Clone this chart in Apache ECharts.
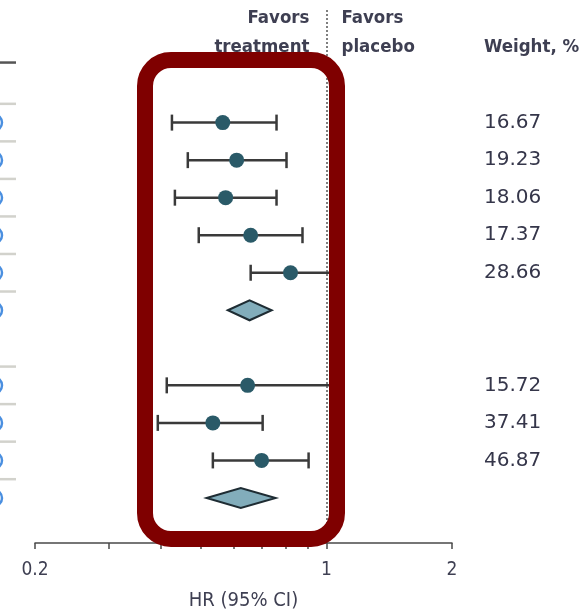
<!DOCTYPE html>
<html><head><meta charset="utf-8">
<script src="https://cdn.jsdelivr.net/npm/echarts@6/dist/echarts.min.js"></script>
<style>html,body{margin:0;padding:0;background:#fff}#c{width:588px;height:611px}</style>
</head><body><div id="c"></div>
<script>
// Study rows (row index on the y scale; row 6 is an empty spacer)
const studyRows = [0, 1, 2, 3, 4, 7, 8, 9];
const studyHR = [0.564, 0.609, 0.573, 0.658, 0.820, 0.647, 0.534, 0.699];
const studyLower = [0.426, 0.465, 0.433, 0.494, 0.658, 0.414, 0.394, 0.534];
const studyUpper = [0.759, 0.802, 0.759, 0.876, 1.06, 1.08, 0.703, 0.906];
const studyWeights = ['16.67', '19.23', '18.06', '17.37', '28.66', '15.72', '37.41', '46.87'];
// Pooled estimates (diamonds)
const pooledRows = [5, 10];
const pooledHR = [0.654, 0.623];
const pooledLower = [0.580, 0.516];
const pooledUpper = [0.739, 0.755];
// all occupied rows (for the left-edge fragments)
const allRows = [0, 1, 2, 3, 4, 5, 7, 8, 9, 10];
// axis ticks
const tickValues = [0.2, 0.3, 0.4, 0.5, 0.6, 0.7, 0.8, 0.9, 1, 2];
const labelValues = [0.2, 1, 2];
const refValue = 1;

const textColor = '#3e3f52';
const fontFam = '"DejaVu Sans Condensed", "DejaVu Sans", sans-serif';

const chart = echarts.init(document.getElementById('c'), null, {renderer: 'canvas'});

const ciData = studyRows.map((r, i) => [studyLower[i], studyUpper[i], r]);
const ptData = studyRows.map((r, i) => [studyHR[i], r]);
const dmData = pooledRows.map((r, i) => [pooledLower[i], pooledHR[i], pooledUpper[i], r]);
const wtData = studyRows.map((r, i) => [refValue, r, studyWeights[i]]);

chart.setOption({
  animation: false,
  grid: {left: 35, right: 136, top: 10, bottom: 68, containLabel: false, outerBoundsMode: 'none'},
  xAxis: {
    type: 'log', logBase: 10, min: 0.2, max: 2,
    splitLine: {show: false},
    axisLine: {show: true, onZero: false, lineStyle: {color: '#4a4a4a', width: 1.5}},
    axisTick: {show: true, customValues: tickValues, length: 6, lineStyle: {color: '#4a4a4a', width: 1.5}},
    axisLabel: {customValues: labelValues, color: textColor, fontSize: 19, fontFamily: fontFam, margin: 18,
      formatter: v => String(+v.toFixed(2))},
    name: 'HR (95% CI)', nameLocation: 'middle', nameGap: 48,
    nameTextStyle: {color: textColor, fontSize: 20, fontFamily: fontFam}
  },
  yAxis: {type: 'value', inverse: true, min: -3, max: 11.2, show: false},
  series: [
    {
      type: 'custom', name: 'ci', data: ciData, z: 3,
      renderItem: (params, api) => {
        const a = api.coord([api.value(0), api.value(2)]);
        const b = api.coord([api.value(1), api.value(2)]);
        const h = 8;
        const st = {stroke: '#3a3a3a', lineWidth: 2.5};
        return {type: 'group', children: [
          {type: 'line', shape: {x1: a[0], y1: a[1], x2: b[0], y2: b[1]}, style: st},
          {type: 'line', shape: {x1: a[0], y1: a[1] - h, x2: a[0], y2: a[1] + h}, style: st},
          {type: 'line', shape: {x1: b[0], y1: b[1] - h, x2: b[0], y2: b[1] + h}, style: st}
        ]};
      }
    },
    {
      type: 'scatter', name: 'hr', data: ptData, symbol: 'circle', symbolSize: 15, z: 4,
      itemStyle: {color: '#2a5a68', opacity: 1}
    },
    {
      type: 'custom', name: 'pooled', data: dmData, z: 4,
      renderItem: (params, api) => {
        const r = api.value(3);
        const l = api.coord([api.value(0), r]);
        const m = api.coord([api.value(1), r]);
        const u = api.coord([api.value(2), r]);
        const h = 10;
        return {type: 'polygon', shape: {points: [[l[0], l[1]], [m[0], m[1] - h], [u[0], u[1]], [m[0], m[1] + h]]},
          style: {fill: '#82adbb', stroke: '#1e2c33', lineWidth: 2}};
      }
    },
    {
      type: 'custom', name: 'weights', data: wtData, z: 4,
      renderItem: (params, api) => {
        const p = api.coord([api.value(0), api.value(1)]);
        return {type: 'text', x: 484, y: p[1],
          style: {text: studyWeights[params.dataIndex], fill: '#35364a', fontSize: 20, fontFamily: '"DejaVu Sans", sans-serif',
            textAlign: 'left', textVerticalAlign: 'middle'}};
      }
    },
    {
      type: 'line', name: 'ref', data: [],
      markLine: {silent: true, symbol: 'none', label: {show: false},
        lineStyle: {color: '#555', type: [2, 2], width: 1.5},
        data: [{xAxis: refValue}]}
    }
  ]
});

// Left-edge fragments and headers, positioned through the chart's scales
const g = [];
const xRef = chart.convertToPixel({gridIndex: 0}, [refValue, 0])[0];
allRows.forEach(r => {
  const y = chart.convertToPixel({gridIndex: 0}, [1, r])[1];
  const yl = chart.convertToPixel({gridIndex: 0}, [1, r - 0.5])[1];
  g.push({type: 'line', shape: {x1: 0, y1: yl, x2: 16, y2: yl}, style: {stroke: '#d2d2cc', lineWidth: 2.5}});
  g.push({type: 'circle', shape: {cx: -6, cy: y, r: 8}, style: {fill: '#fff', stroke: '#4a8fe0', lineWidth: 2.5}});
});
const yTop = chart.convertToPixel({gridIndex: 0}, [1, -1.6])[1];
g.push({type: 'line', shape: {x1: 0, y1: yTop, x2: 16, y2: yTop}, style: {stroke: '#555', lineWidth: 2.5}});
const hdr = (txt, x, y, align) => g.push({type: 'text', x: x, y: y, z: 5,
  style: {text: txt, fill: textColor, fontSize: 18.5, fontWeight: 'bold', fontFamily: fontFam, textAlign: align, textVerticalAlign: 'middle'}});
hdr('Favors', xRef - 17, 18, 'right');
hdr('treatment', xRef - 17, 47, 'right');
hdr('Favors', xRef + 15, 18, 'left');
hdr('placebo', xRef + 15, 47, 'left');
hdr('Weight, %', 484, 47, 'left');
// highlight frame
g.push({type: 'rect', z: 100, shape: {x: 145, y: 60, width: 192, height: 479, r: 26},
  style: {fill: 'none', stroke: '#7f0000', lineWidth: 16}});
chart.setOption({graphic: {elements: g}});
</script></body></html>
